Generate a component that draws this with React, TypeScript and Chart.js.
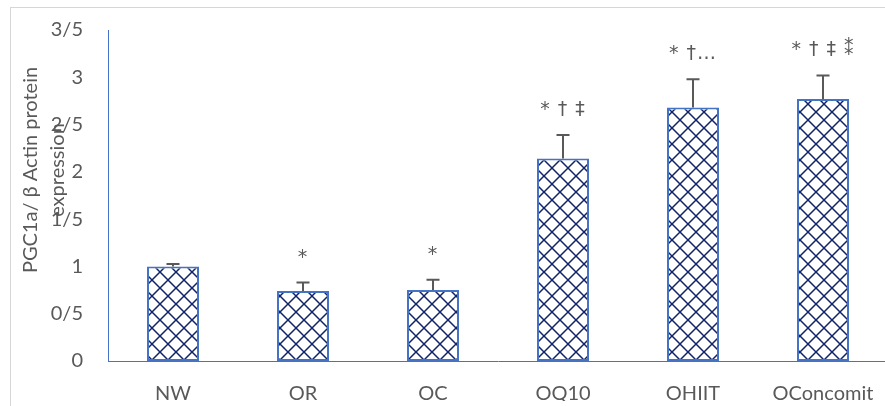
import { useEffect, useRef } from "react";
import { Chart, registerables } from "chart.js";

Chart.register(...registerables);

const categories = ["NW", "OR", "OC", "OQ10", "OHIIT", "OConcomit"];
const meanValues = [1.0, 0.74, 0.75, 2.14, 2.68, 2.77];
const errorValues = [0.025, 0.09, 0.11, 0.25, 0.3, 0.25];
const significanceLabels = ["", "*", "*", "* † ‡", "* †…", "* † ‡ ⁑"];
const yTickLabels = ["0", "0/5", "1", "1/5", "2", "2/5", "3", "3/5"];
const yTitleLines = ["PGC1a/ β Actin protein", "expression"];

const FONT = "Lato, 'DejaVu Sans', sans-serif";
const MARK_FONT = "'DejaVu Sans', Lato, sans-serif";
const TEXT = "#595959";
const AXIS_BLUE = "#4472C4";
const HATCH = "#0f2366";

function makePattern(): CanvasPattern {
  const c = document.createElement("canvas");
  const s = 16;
  c.width = s;
  c.height = s;
  const g = c.getContext("2d")!;
  g.fillStyle = "#ffffff";
  g.fillRect(0, 0, s, s);
  g.strokeStyle = HATCH;
  g.lineWidth = 1.5;
  g.beginPath();
  for (const k of [-s, 0, s]) {
    g.moveTo(k - 2, -2);
    g.lineTo(k + s + 2, s + 2);
    g.moveTo(k - 2, s + 2);
    g.lineTo(k + s + 2, -2);
  }
  g.stroke();
  return g.createPattern(c, "repeat")!;
}

const overlay = {
  id: "overlay",
  afterDatasetsDraw(chart: any) {
    const ctx: CanvasRenderingContext2D = chart.ctx;
    const y = chart.scales.y;
    const meta = chart.getDatasetMeta(0);
    ctx.save();
    meta.data.forEach((bar: any, i: number) => {
      const top = y.getPixelForValue(meanValues[i] + errorValues[i]);
      const x = Math.round(bar.x);
      ctx.strokeStyle = "#595959";
      ctx.lineWidth = 2;
      ctx.beginPath();
      ctx.moveTo(x, bar.y);
      ctx.lineTo(x, top);
      ctx.moveTo(x - 6.5, top);
      ctx.lineTo(x + 6.5, top);
      ctx.stroke();
      if (significanceLabels[i]) {
        ctx.fillStyle = TEXT;
        ctx.font = `19px ${MARK_FONT}`;
        ctx.textAlign = "center";
        ctx.textBaseline = "alphabetic";
        (ctx as any).letterSpacing = "1px";
        ctx.fillText(significanceLabels[i], x, top - 20);
        (ctx as any).letterSpacing = "0px";
      }
    });
    // y-axis title (two lines, rotated)
    ctx.fillStyle = TEXT;
    ctx.font = `20px ${FONT}`;
    ctx.textAlign = "center";
    ctx.textBaseline = "middle";
    const titleX = [31, 58];
    yTitleLines.forEach((line, i) => {
      ctx.save();
      ctx.translate(titleX[i], 170);
      ctx.rotate(-Math.PI / 2);
      ctx.fillText(line, 0, 0);
      ctx.restore();
    });
    ctx.restore();
  },
};

export default function App() {
  const ref = useRef<HTMLCanvasElement>(null);
  useEffect(() => {
    const pattern = makePattern();
    const chart = new Chart(ref.current!, {
      type: "bar",
      data: {
        labels: categories,
        datasets: [
          {
            data: meanValues,
            backgroundColor: pattern,
            borderColor: AXIS_BLUE,
            borderWidth: 2,
            borderSkipped: false,
            barPercentage: 0.4,
            categoryPercentage: 1,
          },
        ],
      },
      options: {
        responsive: false,
        maintainAspectRatio: false,
        animation: false,
        devicePixelRatio: 1,
        layout: { padding: { left: 0, top: 30, right: 12, bottom: 19 } },
        plugins: { legend: { display: false }, tooltip: { enabled: false } },
        scales: {
          x: {
            grid: { display: false, drawTicks: false },
            border: { display: true, color: AXIS_BLUE, width: 1 },
            ticks: {
              color: TEXT,
              font: { family: FONT, size: 20 },
              padding: 21,
              maxRotation: 0,
              autoSkip: false,
            },
            afterFit: (s: any) => {
              s.height = 40;
              s.paddingLeft = 0;
              s.paddingRight = 0;
            },
          },
          y: {
            min: 0,
            max: 3.5,
            grid: { display: false, drawTicks: false },
            border: { display: true, color: AXIS_BLUE, width: 1 },
            ticks: {
              stepSize: 0.5,
              color: TEXT,
              font: { family: FONT, size: 20 },
              padding: 25,
              callback: (_v: any, i: number) => yTickLabels[i],
            },
            afterFit: (s: any) => {
              s.width = 108;
              s.paddingTop = 0;
              s.paddingBottom = 0;
            },
          },
        },
      },
      plugins: [overlay],
    } as any);
    return () => chart.destroy();
  }, []);
  return (
    <div
      style={{
        position: "fixed",
        left: 0,
        top: 0,
        width: 885,
        height: 406,
        overflow: "hidden",
        background: "#ffffff",
      }}
    >
      <div
        style={{
          position: "absolute",
          left: 10,
          top: 7,
          width: 2000,
          height: 2000,
          border: "1px solid #d6d6d6",
        }}
      />
      <canvas
        ref={ref}
        width={900}
        height={420}
        style={{ position: "absolute", left: 0, top: 0, width: 900, height: 420 }}
      />
    </div>
  );
}
